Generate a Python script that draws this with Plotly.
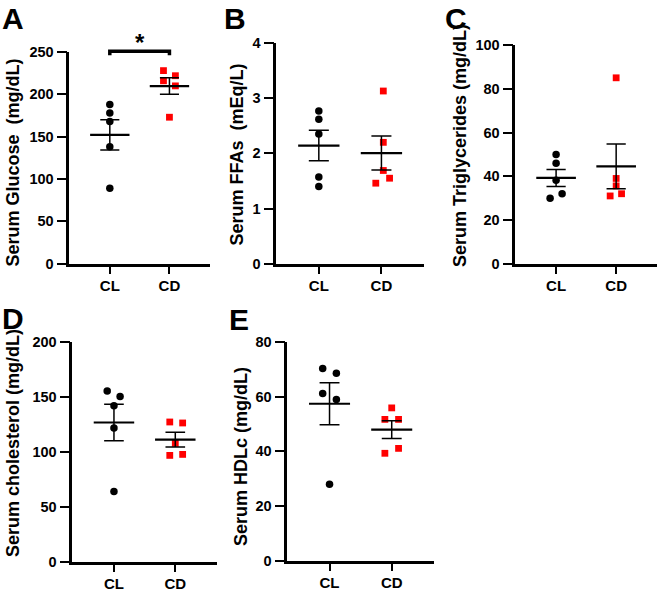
import numpy as np
import plotly.graph_objects as go

groups = ["CL", "CD"]

glucose_CL = [188, 178, 168, 138, 89]
glucose_CD = [228, 222, 216, 210, 173]
ffa_CL = [2.77, 2.62, 2.35, 1.57, 1.40]
ffa_CD = [3.13, 2.20, 1.69, 1.55, 1.46]
tg_CL = [50, 46, 38.2, 32, 30]
tg_CD = [85, 39, 35.6, 32, 31]
chol_CL = [155.5, 150.4, 142, 121.8, 64]
chol_CD = [127.2, 126.3, 107.7, 96.8, 97.7]
hdl_CL = [70.3, 68.6, 61.2, 59.0, 28]
hdl_CD = [55.9, 51.7, 51.7, 41.1, 39.3]

# jitter (horizontal scatter offsets, styling only)
jit = {
    "A": ([0, 0, 0, 0, 0], [-0.1, 0.1, -0.1, 0.1, 0]),
    "B": ([0, 0, 0, 0, 0], [0.03, 0.03, 0.03, 0.13, -0.09]),
    "C": ([0, 0, 0, 0.1, -0.1], [0, 0, 0, 0.09, -0.1]),
    "D": ([-0.11, 0.1, 0, 0, 0], [-0.09, 0.12, 0, -0.09, 0.12]),
    "E": ([-0.11, 0.11, -0.11, 0.11, 0], [0, -0.11, 0.11, 0.11, -0.11]),
}

W, H = 663, 592
XR = [-0.68, 1.68]
LW = 2.5
panels = [
    ("A", glucose_CL, glucose_CD, "Serum Glucose  (mg/dL)", 250, 50, 68, 210, 52, 265, 12.5, 163, (13, 1)),
    ("B", ffa_CL, ffa_CD, "Serum FFAs  (mEq/L)", 4, 1, 275, 424, 43, 265, 236.5, 155, (235, 1)),
    ("C", tg_CL, tg_CD, "Serum Triglycerides (mg/dL)", 100, 20, 514, 657, 45, 265, 460, 146, (456, 1)),
    ("D", chol_CL, chol_CD, "Serum cholesterol (mg/dL)", 200, 50, 71, 217, 342, 563, 13, 443, (13, 301)),
    ("E", hdl_CL, hdl_CD, "Serum HDLc (mg/dL)", 80, 20, 286, 434, 342, 562, 241, 457, (239, 302)),
]

FONT = "Liberation Sans, Arial, sans-serif"
fig = go.Figure()
layout = dict(width=W, height=H, margin=dict(l=0, r=0, t=0, b=0, autoexpand=False),
              plot_bgcolor="white", paper_bgcolor="white", showlegend=False,
              annotations=[], shapes=[])

for i, (let, cl, cd, title, ymax, dt, x0, x1, yt, yb, tx, ty, lxy) in enumerate(panels):
    n = "" if i == 0 else str(i + 1)
    xa, ya = "x" + n, "y" + n
    jl, jd = jit[let]
    for k, (vals, off, sym, col, sz) in enumerate([
        (cl, jl, "circle", "black", 7.5), (cd, jd, "square", "#ff0000", 6.8)]):
        xs = [k + o for o in off]
        fig.add_trace(go.Scatter(x=xs, y=vals, mode="markers", xaxis=xa, yaxis=ya,
                                 marker=dict(symbol=sym, color=col, size=sz, line=dict(width=0)),
                                 cliponaxis=False))
        m = float(np.mean(vals))
        s = float(np.std(vals, ddof=1) / np.sqrt(len(vals)))
        fig.add_trace(go.Scatter(x=[k - 0.33, k + 0.33], y=[m, m], mode="lines",
                                 xaxis=xa, yaxis=ya, line=dict(color="black", width=2.2)))
        fig.add_trace(go.Scatter(
            x=[k, k, None, k - 0.16, k + 0.16, None, k - 0.16, k + 0.16],
            y=[m - s, m + s, None, m - s, m - s, None, m + s, m + s],
            mode="lines", xaxis=xa, yaxis=ya, line=dict(color="black", width=1.5)))
    layout["xaxis" + n] = dict(
        domain=[(x0 + LW / 2) / W, x1 / W], range=XR, anchor=ya, showgrid=False, zeroline=False,
        automargin=False,
        showline=True, linecolor="black", linewidth=LW, ticks="outside", ticklen=7,
        tickwidth=2, tickcolor="black", tickvals=[0, 1], ticktext=groups, ticklabelstandoff=-1,
        tickfont=dict(family=FONT, size=15, color="black", weight="bold"))
    layout["yaxis" + n] = dict(
        domain=[1 - (yb - LW / 2) / H, 1 - yt / H], range=[0, ymax], dtick=dt, anchor=xa,
        automargin=False,
        showgrid=False, zeroline=False, showline=True, linecolor="black", linewidth=LW,
        ticks="outside", ticklen=10, tickwidth=2, tickcolor="black", ticklabelstandoff=0,
        tickfont=dict(family=FONT, size=14.5, color="black", weight="bold"))
    layout["annotations"].append(dict(
        text=title, xref="paper", yref="paper", x=tx / W, y=1 - ty / H, textangle=-90,
        showarrow=False, xanchor="center", yanchor="middle",
        font=dict(family=FONT, size=18, color="black", weight="bold")))
    lx, ly = lxy
    layout["annotations"].append(dict(text=let, xref="paper", yref="paper", x=lx / W,
                                      y=1 - ly / H, showarrow=False, xanchor="center",
                                      yanchor="top", borderpad=0,
                                      font=dict(family=FONT, size=30, color="black", weight="bold")))

def xdom(v):
    return (v - XR[0]) / (XR[1] - XR[0])

layout["shapes"].append(dict(type="path", xref="x domain", yref="y domain",
                             path=f"M {xdom(0)} 0.985 L {xdom(0)} 1.003 L {xdom(1)} 1.003 L {xdom(1)} 0.985",
                             line=dict(color="black", width=3.5)))
layout["annotations"].append(dict(text="*", xref="x domain", yref="y domain", x=xdom(0.5),
                                  y=1.045, showarrow=False, yanchor="middle",
                                  font=dict(family=FONT, size=24, color="black", weight="bold")))

fig.update_layout(**layout)
fig.write_html("out.html", config={"displayModeBar": False},
               post_script="document.body.style.margin='0px';")
